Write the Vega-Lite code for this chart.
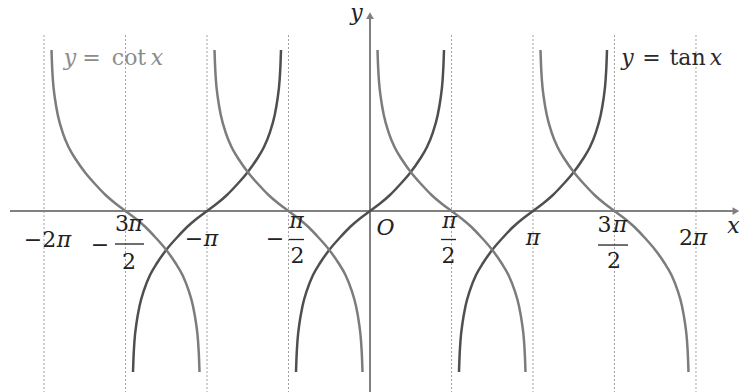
{
"$schema": "https://vega.github.io/schema/vega-lite/v6.json",
"width": 740, "height": 392, "padding": 0, "autosize": {"type": "none"},
"background": "white",
"config": {"view": {"stroke": null}},
"datasets": {
"asym": [{"x":-4,"y":4.63,"y2":-4.763},{"x":-3,"y":4.63,"y2":-4.763},{"x":-2,"y":4.63,"y2":-4.763},{"x":-1,"y":4.63,"y2":-4.763},{"x":1,"y":4.63,"y2":-4.763},{"x":2,"y":4.63,"y2":-4.763},{"x":3,"y":4.63,"y2":-4.763},{"x":4,"y":4.63,"y2":-4.763}],
"axes": [{"x":-4.417,"x2":4.47,"y":0,"y2":0},{"x":0,"x2":0,"y":-4.763,"y2":5.1}],
"arrows": [{"x":4.49,"y":0,"s":"triangle-right"},{"x":0,"y":5.14,"s":"triangle-up"}],
"curves": [
{"fn":"tan","br":"t1","x":-2.908,"y":-4.237},{"fn":"tan","br":"t1","x":-2.902,"y":-3.868},{"fn":"tan","br":"t1","x":-2.89,"y":-3.421},{"fn":"tan","br":"t1","x":-2.865,"y":-2.947},{"fn":"tan","br":"t1","x":-2.828,"y":-2.5},{"fn":"tan","br":"t1","x":-2.773,"y":-2.079},{"fn":"tan","br":"t1","x":-2.699,"y":-1.684},{"fn":"tan","br":"t1","x":-2.613,"y":-1.368},{"fn":"tan","br":"t1","x":-2.491,"y":-1},{"fn":"tan","br":"t1","x":-2.368,"y":-0.697},{"fn":"tan","br":"t1","x":-2.245,"y":-0.421},{"fn":"tan","br":"t1","x":-2.123,"y":-0.197},{"fn":"tan","br":"t1","x":-2,"y":0},{"fn":"tan","br":"t1","x":-1.877,"y":0.197},{"fn":"tan","br":"t1","x":-1.755,"y":0.421},{"fn":"tan","br":"t1","x":-1.632,"y":0.697},{"fn":"tan","br":"t1","x":-1.509,"y":1},{"fn":"tan","br":"t1","x":-1.387,"y":1.368},{"fn":"tan","br":"t1","x":-1.301,"y":1.684},{"fn":"tan","br":"t1","x":-1.227,"y":2.079},{"fn":"tan","br":"t1","x":-1.172,"y":2.5},{"fn":"tan","br":"t1","x":-1.135,"y":2.947},{"fn":"tan","br":"t1","x":-1.11,"y":3.421},{"fn":"tan","br":"t1","x":-1.098,"y":3.868},{"fn":"tan","br":"t1","x":-1.092,"y":4.237},
{"fn":"tan","br":"t2","x":-0.908,"y":-4.237},{"fn":"tan","br":"t2","x":-0.902,"y":-3.868},{"fn":"tan","br":"t2","x":-0.89,"y":-3.421},{"fn":"tan","br":"t2","x":-0.865,"y":-2.947},{"fn":"tan","br":"t2","x":-0.828,"y":-2.5},{"fn":"tan","br":"t2","x":-0.773,"y":-2.079},{"fn":"tan","br":"t2","x":-0.699,"y":-1.684},{"fn":"tan","br":"t2","x":-0.613,"y":-1.368},{"fn":"tan","br":"t2","x":-0.491,"y":-1},{"fn":"tan","br":"t2","x":-0.368,"y":-0.697},{"fn":"tan","br":"t2","x":-0.245,"y":-0.421},{"fn":"tan","br":"t2","x":-0.123,"y":-0.197},{"fn":"tan","br":"t2","x":0,"y":0},{"fn":"tan","br":"t2","x":0.123,"y":0.197},{"fn":"tan","br":"t2","x":0.245,"y":0.421},{"fn":"tan","br":"t2","x":0.368,"y":0.697},{"fn":"tan","br":"t2","x":0.491,"y":1},{"fn":"tan","br":"t2","x":0.613,"y":1.368},{"fn":"tan","br":"t2","x":0.699,"y":1.684},{"fn":"tan","br":"t2","x":0.773,"y":2.079},{"fn":"tan","br":"t2","x":0.828,"y":2.5},{"fn":"tan","br":"t2","x":0.865,"y":2.947},{"fn":"tan","br":"t2","x":0.89,"y":3.421},{"fn":"tan","br":"t2","x":0.902,"y":3.868},{"fn":"tan","br":"t2","x":0.908,"y":4.237},
{"fn":"tan","br":"t3","x":1.092,"y":-4.237},{"fn":"tan","br":"t3","x":1.098,"y":-3.868},{"fn":"tan","br":"t3","x":1.11,"y":-3.421},{"fn":"tan","br":"t3","x":1.135,"y":-2.947},{"fn":"tan","br":"t3","x":1.172,"y":-2.5},{"fn":"tan","br":"t3","x":1.227,"y":-2.079},{"fn":"tan","br":"t3","x":1.301,"y":-1.684},{"fn":"tan","br":"t3","x":1.387,"y":-1.368},{"fn":"tan","br":"t3","x":1.509,"y":-1},{"fn":"tan","br":"t3","x":1.632,"y":-0.697},{"fn":"tan","br":"t3","x":1.755,"y":-0.421},{"fn":"tan","br":"t3","x":1.877,"y":-0.197},{"fn":"tan","br":"t3","x":2,"y":0},{"fn":"tan","br":"t3","x":2.123,"y":0.197},{"fn":"tan","br":"t3","x":2.245,"y":0.421},{"fn":"tan","br":"t3","x":2.368,"y":0.697},{"fn":"tan","br":"t3","x":2.491,"y":1},{"fn":"tan","br":"t3","x":2.613,"y":1.368},{"fn":"tan","br":"t3","x":2.699,"y":1.684},{"fn":"tan","br":"t3","x":2.773,"y":2.079},{"fn":"tan","br":"t3","x":2.828,"y":2.5},{"fn":"tan","br":"t3","x":2.865,"y":2.947},{"fn":"tan","br":"t3","x":2.89,"y":3.421},{"fn":"tan","br":"t3","x":2.902,"y":3.868},{"fn":"tan","br":"t3","x":2.908,"y":4.237},
{"fn":"cot","br":"c1","x":-3.908,"y":4.237},{"fn":"cot","br":"c1","x":-3.902,"y":3.868},{"fn":"cot","br":"c1","x":-3.89,"y":3.421},{"fn":"cot","br":"c1","x":-3.865,"y":2.947},{"fn":"cot","br":"c1","x":-3.828,"y":2.5},{"fn":"cot","br":"c1","x":-3.773,"y":2.079},{"fn":"cot","br":"c1","x":-3.699,"y":1.684},{"fn":"cot","br":"c1","x":-3.613,"y":1.368},{"fn":"cot","br":"c1","x":-3.491,"y":1},{"fn":"cot","br":"c1","x":-3.368,"y":0.697},{"fn":"cot","br":"c1","x":-3.245,"y":0.421},{"fn":"cot","br":"c1","x":-3.123,"y":0.197},{"fn":"cot","br":"c1","x":-3,"y":0},{"fn":"cot","br":"c1","x":-2.877,"y":-0.197},{"fn":"cot","br":"c1","x":-2.755,"y":-0.421},{"fn":"cot","br":"c1","x":-2.632,"y":-0.697},{"fn":"cot","br":"c1","x":-2.509,"y":-1},{"fn":"cot","br":"c1","x":-2.387,"y":-1.368},{"fn":"cot","br":"c1","x":-2.301,"y":-1.684},{"fn":"cot","br":"c1","x":-2.227,"y":-2.079},{"fn":"cot","br":"c1","x":-2.172,"y":-2.5},{"fn":"cot","br":"c1","x":-2.135,"y":-2.947},{"fn":"cot","br":"c1","x":-2.11,"y":-3.421},{"fn":"cot","br":"c1","x":-2.098,"y":-3.868},{"fn":"cot","br":"c1","x":-2.092,"y":-4.237},
{"fn":"cot","br":"c2","x":-1.908,"y":4.237},{"fn":"cot","br":"c2","x":-1.902,"y":3.868},{"fn":"cot","br":"c2","x":-1.89,"y":3.421},{"fn":"cot","br":"c2","x":-1.865,"y":2.947},{"fn":"cot","br":"c2","x":-1.828,"y":2.5},{"fn":"cot","br":"c2","x":-1.773,"y":2.079},{"fn":"cot","br":"c2","x":-1.699,"y":1.684},{"fn":"cot","br":"c2","x":-1.613,"y":1.368},{"fn":"cot","br":"c2","x":-1.491,"y":1},{"fn":"cot","br":"c2","x":-1.368,"y":0.697},{"fn":"cot","br":"c2","x":-1.245,"y":0.421},{"fn":"cot","br":"c2","x":-1.123,"y":0.197},{"fn":"cot","br":"c2","x":-1,"y":0},{"fn":"cot","br":"c2","x":-0.877,"y":-0.197},{"fn":"cot","br":"c2","x":-0.755,"y":-0.421},{"fn":"cot","br":"c2","x":-0.632,"y":-0.697},{"fn":"cot","br":"c2","x":-0.509,"y":-1},{"fn":"cot","br":"c2","x":-0.387,"y":-1.368},{"fn":"cot","br":"c2","x":-0.301,"y":-1.684},{"fn":"cot","br":"c2","x":-0.227,"y":-2.079},{"fn":"cot","br":"c2","x":-0.172,"y":-2.5},{"fn":"cot","br":"c2","x":-0.135,"y":-2.947},{"fn":"cot","br":"c2","x":-0.11,"y":-3.421},{"fn":"cot","br":"c2","x":-0.098,"y":-3.868},{"fn":"cot","br":"c2","x":-0.092,"y":-4.237},
{"fn":"cot","br":"c3","x":0.092,"y":4.237},{"fn":"cot","br":"c3","x":0.098,"y":3.868},{"fn":"cot","br":"c3","x":0.11,"y":3.421},{"fn":"cot","br":"c3","x":0.135,"y":2.947},{"fn":"cot","br":"c3","x":0.172,"y":2.5},{"fn":"cot","br":"c3","x":0.227,"y":2.079},{"fn":"cot","br":"c3","x":0.301,"y":1.684},{"fn":"cot","br":"c3","x":0.387,"y":1.368},{"fn":"cot","br":"c3","x":0.509,"y":1},{"fn":"cot","br":"c3","x":0.632,"y":0.697},{"fn":"cot","br":"c3","x":0.755,"y":0.421},{"fn":"cot","br":"c3","x":0.877,"y":0.197},{"fn":"cot","br":"c3","x":1,"y":0},{"fn":"cot","br":"c3","x":1.123,"y":-0.197},{"fn":"cot","br":"c3","x":1.245,"y":-0.421},{"fn":"cot","br":"c3","x":1.368,"y":-0.697},{"fn":"cot","br":"c3","x":1.491,"y":-1},{"fn":"cot","br":"c3","x":1.613,"y":-1.368},{"fn":"cot","br":"c3","x":1.699,"y":-1.684},{"fn":"cot","br":"c3","x":1.773,"y":-2.079},{"fn":"cot","br":"c3","x":1.828,"y":-2.5},{"fn":"cot","br":"c3","x":1.865,"y":-2.947},{"fn":"cot","br":"c3","x":1.89,"y":-3.421},{"fn":"cot","br":"c3","x":1.902,"y":-3.868},{"fn":"cot","br":"c3","x":1.908,"y":-4.237},
{"fn":"cot","br":"c4","x":2.092,"y":4.237},{"fn":"cot","br":"c4","x":2.098,"y":3.868},{"fn":"cot","br":"c4","x":2.11,"y":3.421},{"fn":"cot","br":"c4","x":2.135,"y":2.947},{"fn":"cot","br":"c4","x":2.172,"y":2.5},{"fn":"cot","br":"c4","x":2.227,"y":2.079},{"fn":"cot","br":"c4","x":2.301,"y":1.684},{"fn":"cot","br":"c4","x":2.387,"y":1.368},{"fn":"cot","br":"c4","x":2.509,"y":1},{"fn":"cot","br":"c4","x":2.632,"y":0.697},{"fn":"cot","br":"c4","x":2.755,"y":0.421},{"fn":"cot","br":"c4","x":2.877,"y":0.197},{"fn":"cot","br":"c4","x":3,"y":0},{"fn":"cot","br":"c4","x":3.123,"y":-0.197},{"fn":"cot","br":"c4","x":3.245,"y":-0.421},{"fn":"cot","br":"c4","x":3.368,"y":-0.697},{"fn":"cot","br":"c4","x":3.491,"y":-1},{"fn":"cot","br":"c4","x":3.613,"y":-1.368},{"fn":"cot","br":"c4","x":3.699,"y":-1.684},{"fn":"cot","br":"c4","x":3.773,"y":-2.079},{"fn":"cot","br":"c4","x":3.828,"y":-2.5},{"fn":"cot","br":"c4","x":3.865,"y":-2.947},{"fn":"cot","br":"c4","x":3.89,"y":-3.421},{"fn":"cot","br":"c4","x":3.902,"y":-3.868},{"fn":"cot","br":"c4","x":3.908,"y":-4.237}
],
"upright": [
{"t":"−2","x":-4.049,"y":-0.947,"c":"#222222"},
{"t":"−","x":-3.313,"y":-1.066,"c":"#222222"},
{"t":"3","x":-3.043,"y":-0.539,"c":"#222222"},
{"t":"2","x":-2.957,"y":-1.526,"c":"#222222"},
{"t":"−","x":-2.16,"y":-0.921,"c":"#222222"},
{"t":"−","x":-1.166,"y":-0.921,"c":"#222222"},
{"t":"2","x":-0.89,"y":-1.368,"c":"#222222"},
{"t":"2","x":0.963,"y":-1.368,"c":"#222222"},
{"t":"3","x":2.877,"y":-0.553,"c":"#222222"},
{"t":"2","x":2.994,"y":-1.5,"c":"#222222"},
{"t":"2","x":3.877,"y":-0.895,"c":"#222222"},
{"t":"=","x":-3.417,"y":3.842,"c":"#8c8c8c"},
{"t":"cot","x":-2.957,"y":3.842,"c":"#8c8c8c"},
{"t":"=","x":3.454,"y":3.842,"c":"#2a2a2a"},
{"t":"tan","x":3.896,"y":3.842,"c":"#2a2a2a"}
],
"italic": [
{"t":"π","x":-3.755,"y":-0.947,"c":"#222222"},
{"t":"π","x":-2.877,"y":-0.539,"c":"#222222"},
{"t":"π","x":-1.951,"y":-0.921,"c":"#222222"},
{"t":"π","x":-0.902,"y":-0.447,"c":"#222222"},
{"t":"π","x":0.975,"y":-0.447,"c":"#222222"},
{"t":"π","x":2.0,"y":-0.895,"c":"#222222"},
{"t":"π","x":3.067,"y":-0.553,"c":"#222222"},
{"t":"π","x":4.049,"y":-0.895,"c":"#222222"},
{"t":"O","x":0.19,"y":-0.632,"c":"#222222"},
{"t":"x","x":4.46,"y":-0.579,"c":"#222222"},
{"t":"y","x":-0.166,"y":5.026,"c":"#222222"},
{"t":"y","x":-3.681,"y":3.842,"c":"#8c8c8c"},
{"t":"x","x":-2.613,"y":3.842,"c":"#8c8c8c"},
{"t":"y","x":3.16,"y":3.842,"c":"#2a2a2a"},
{"t":"x","x":4.245,"y":3.842,"c":"#2a2a2a"}
],
"bars": [
{"x":-3.129,"x2":-2.773,"y":-0.868},
{"x":-0.994,"x2":-0.81,"y":-0.75},
{"x":0.871,"x2":1.055,"y":-0.75},
{"x":2.798,"x2":3.166,"y":-0.895}
]
},
"layer": [
{"data": {"name": "asym"},
 "mark": {"type": "rule", "strokeDash": [2, 2], "color": "#a0a0a0", "strokeWidth": 1},
 "encoding": {
  "x": {"field": "x", "type": "quantitative", "scale": {"domain": [-4.54, 4.54], "nice": false, "zero": false}, "axis": null},
  "y": {"field": "y", "type": "quantitative", "scale": {"domain": [-4.763, 5.553], "nice": false, "zero": false}, "axis": null},
  "y2": {"field": "y2"}}},
{"data": {"name": "axes"},
 "mark": {"type": "rule", "color": "#808080", "strokeWidth": 2},
 "encoding": {
  "x": {"field": "x", "type": "quantitative"},
  "x2": {"field": "x2"},
  "y": {"field": "y", "type": "quantitative"},
  "y2": {"field": "y2"}}},
{"data": {"name": "arrows"},
 "mark": {"type": "point", "filled": true, "opacity": 1, "size": 60, "color": "#808080"},
 "encoding": {
  "x": {"field": "x", "type": "quantitative"},
  "y": {"field": "y", "type": "quantitative"},
  "shape": {"field": "s", "type": "nominal", "scale": null}}},
{"data": {"name": "curves"},
 "mark": {"type": "line", "strokeWidth": 2.5, "interpolate": "monotone"},
 "encoding": {
  "x": {"field": "x", "type": "quantitative"},
  "y": {"field": "y", "type": "quantitative"},
  "detail": {"field": "br", "type": "nominal"},
  "color": {"field": "fn", "type": "nominal", "scale": {"domain": ["tan", "cot"], "range": ["#4f4f4f", "#7c7c7c"]}, "legend": null}}},
{"data": {"name": "bars"},
 "mark": {"type": "rule", "color": "#222222", "strokeWidth": 1.3},
 "encoding": {
  "x": {"field": "x", "type": "quantitative"},
  "x2": {"field": "x2"},
  "y": {"field": "y", "type": "quantitative"}}},
{"data": {"name": "upright"},
 "mark": {"type": "text", "font": "DejaVu Serif", "fontSize": 22, "align": "center", "baseline": "alphabetic"},
 "encoding": {
  "x": {"field": "x", "type": "quantitative"},
  "y": {"field": "y", "type": "quantitative"},
  "text": {"field": "t"},
  "color": {"field": "c", "type": "nominal", "scale": null}}},
{"data": {"name": "italic"},
 "mark": {"type": "text", "font": "DejaVu Serif", "fontStyle": "italic", "fontSize": 22, "align": "center", "baseline": "alphabetic"},
 "encoding": {
  "x": {"field": "x", "type": "quantitative"},
  "y": {"field": "y", "type": "quantitative"},
  "text": {"field": "t"},
  "color": {"field": "c", "type": "nominal", "scale": null}}}
]
}
